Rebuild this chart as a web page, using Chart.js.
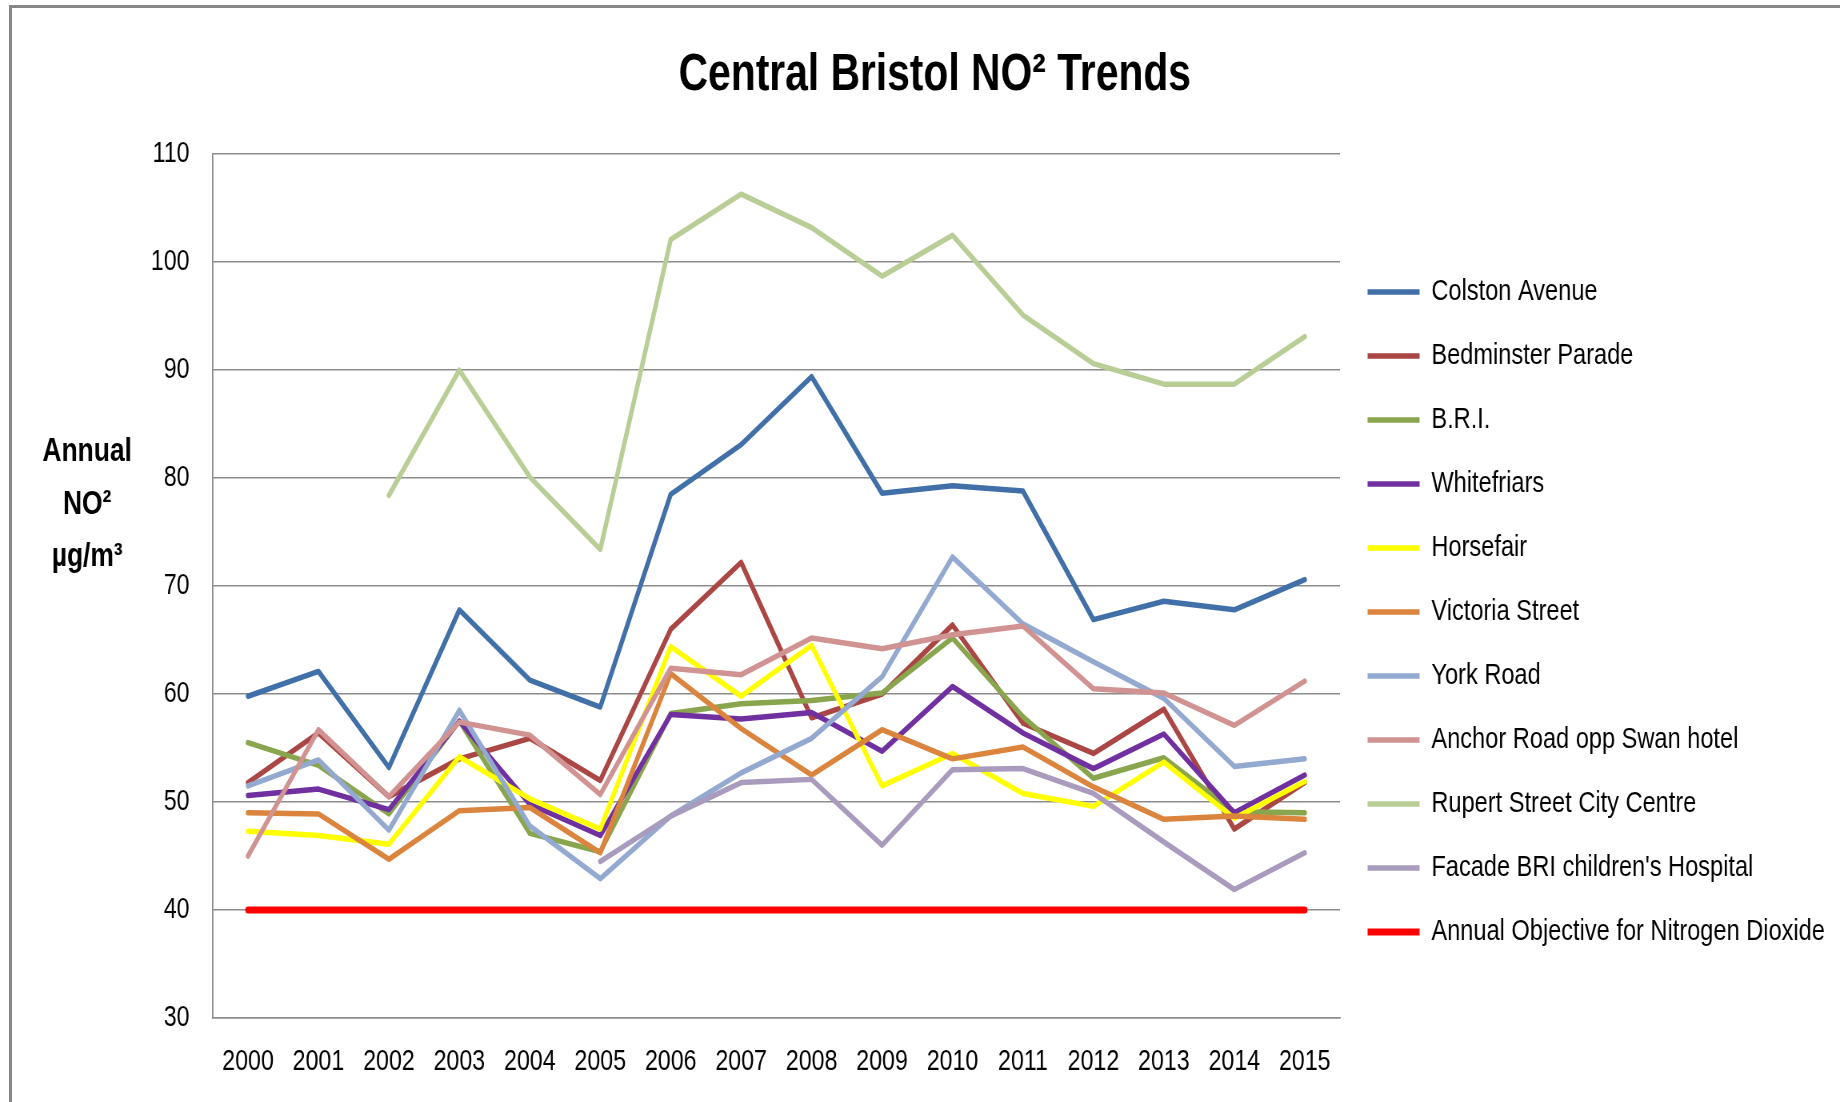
<!DOCTYPE html>
<html>
<head>
    <title>Central Bristol NO2 Trends</title>
    <script src="https://cdn.jsdelivr.net/npm/chart.js"></script>
    <style>
        body {
            margin: 0;
            background-color: #ffffff;
            overflow: hidden;
        }
        .frame {
            position: absolute;
            left: 9px;
            top: 5px;
            width: 2000px;
            height: 2000px;
            border: 3px solid #878787;
        }
        /* the original picture is narrow and tall, so the canvas is drawn wider and squeezed */
        #no2-chart {
            position: absolute;
            left: 0;
            top: 0;
        }
    </style>
</head>
<body>
    <div class="frame"></div>
    <canvas id="no2-chart" width="2300" height="1102" style="width: 1840px; height: 1102px;"></canvas>
<script>
    var years = ['2000', '2001', '2002', '2003', '2004', '2005', '2006', '2007',
                 '2008', '2009', '2010', '2011', '2012', '2013', '2014', '2015'];

    var colstonAvenue   = [59.8, 62.1, 53.2, 67.8, 61.3, 58.8, 78.5, 83.1, 89.4, 78.6, 79.3, 78.8, 66.9, 68.6, 67.8, 70.6];
    var bedminster      = [51.8, 56.4, 50.5, 54.0, 55.9, 52.0, 66.0, 72.2, 57.8, 60.0, 66.4, 57.3, 54.5, 58.6, 47.5, 51.8];
    var bri             = [55.5, 53.4, 48.9, 57.5, 47.1, 45.4, 58.2, 59.1, 59.4, 60.1, 65.2, 57.9, 52.2, 54.1, 49.1, 49.0];
    var whitefriars     = [50.6, 51.2, 49.3, 57.5, 49.8, 46.9, 58.1, 57.7, 58.3, 54.7, 60.7, 56.4, 53.1, 56.3, 49.0, 52.5];
    var horsefair       = [47.3, 46.9, 46.1, 54.2, 50.3, 47.5, 64.4, 59.8, 64.5, 51.5, 54.5, 50.8, 49.6, 53.7, 48.5, 51.9];
    var victoriaStreet  = [49.0, 48.9, 44.7, 49.2, 49.5, 45.3, 61.9, 56.8, 52.5, 56.7, 54.0, 55.1, 51.4, 48.4, 48.7, 48.4];
    var yorkRoad        = [51.5, 53.9, 47.4, 58.5, 47.8, 42.9, 48.7, 52.7, 55.9, 61.6, 72.7, 66.5, 63.0, 59.6, 53.3, 54.0];
    var anchorRoad      = [45.0, 56.7, 50.5, 57.4, 56.2, 50.7, 62.4, 61.8, 65.2, 64.2, 65.5, 66.3, 60.5, 60.1, 57.1, 61.2];
    var rupertStreet    = [null, null, 78.4, 90.0, 80.1, 73.4, 102.1, 106.3, 103.2, 98.7, 102.5, 95.1, 90.6, 88.7, 88.7, 93.1];
    var facadeBri       = [null, null, null, null, null, 44.5, 48.7, 51.8, 52.1, 46.0, 53.0, 53.1, 50.8, 46.3, 41.9, 45.3];
    var annualObjective = [40, 40, 40, 40, 40, 40, 40, 40, 40, 40, 40, 40, 40, 40, 40, 40];

    var seriesNames = ['Colston Avenue', 'Bedminster Parade', 'B.R.I.', 'Whitefriars', 'Horsefair',
                       'Victoria Street', 'York Road', 'Anchor Road opp Swan hotel',
                       'Rupert Street City Centre', "Facade BRI children's Hospital",
                       'Annual Objective for Nitrogen Dioxide'];
    var seriesValues = [colstonAvenue, bedminster, bri, whitefriars, horsefair, victoriaStreet,
                        yorkRoad, anchorRoad, rupertStreet, facadeBri, annualObjective];
    var seriesColors = ['#4170A8', '#AA4643', '#89A54E', '#7030A0', '#FFFF00', '#DB843D',
                        '#93A9CF', '#D19392', '#B9CD96', '#A99BBD', '#FF0000'];

    var yTicks = [30, 40, 50, 60, 70, 80, 90, 100, 110];

    var fontFamily = "'Liberation Sans', Arial, sans-serif";

    var datasets = seriesNames.map(function (name, i) {
        var last = i === seriesNames.length - 1;
        return {
            label: name,
            data: seriesValues[i],
            borderColor: seriesColors[i],
            backgroundColor: seriesColors[i],
            borderWidth: last ? 7 : 5.5,
            borderCapStyle: 'round',
            borderJoinStyle: 'round',
            pointRadius: 0,
            pointHoverRadius: 0,
            tension: 0,
            fill: false,
            order: seriesNames.length - i // later series on top, like the original
        };
    });

    // horizontal "Annual NO2 ug/m3" label left of the axis
    var yTitlePlugin = {
        id: 'yTitle',
        afterDraw: function (chart) {
            var ctx = chart.ctx;
            var area = chart.chartArea;
            var lines = ['Annual', 'NO\u00b2', '\u00b5g/m\u00b3'];
            var offsets = [298, 351, 403];
            ctx.save();
            ctx.font = 'bold 33px ' + fontFamily;
            ctx.fillStyle = '#000000';
            ctx.textAlign = 'center';
            ctx.textBaseline = 'middle';
            lines.forEach(function (t, i) {
                ctx.fillText(t, area.left - 157, area.top + offsets[i]);
            });
            ctx.restore();
        }
    };

    var ctx = document.getElementById('no2-chart').getContext('2d');
    var no2Chart = new Chart(ctx, {
        type: 'line',
        data: {
            labels: years,
            datasets: datasets
        },
        options: {
            responsive: false,
            animation: false,
            devicePixelRatio: 1,
            layout: {
                padding: { left: 46, right: 9, top: 0, bottom: 0 }
            },
            plugins: {
                title: {
                    display: true,
                    text: 'Central Bristol NO\u00b2 Trends',
                    color: '#000000',
                    font: { family: fontFamily, size: 51, weight: 'bold', lineHeight: 1.2 },
                    padding: { top: 45, bottom: 48 }
                },
                legend: {
                    position: 'right',
                    align: 'center',
                    fullSize: false,
                    maxWidth: 616,
                    title: {
                        display: true,
                        text: '',
                        font: { size: 20, lineHeight: 1 },
                        padding: { top: 16, bottom: 16 }
                    },
                    labels: {
                        color: '#000000',
                        font: { family: fontFamily, size: 29.5 },
                        padding: 34.5,
                        usePointStyle: true,
                        pointStyle: 'line',
                        pointStyleWidth: 65,
                        sort: function (a, b) { return a.datasetIndex - b.datasetIndex; }
                    }
                },
                tooltip: { enabled: false }
            },
            scales: {
                x: {
                    type: 'category',
                    offset: true,
                    grid: { display: false, drawTicks: false },
                    border: { display: true, color: '#8c8c8c', width: 1.5 },
                    ticks: {
                        color: '#000000',
                        font: { family: fontFamily, size: 29 },
                        padding: 27,
                        maxRotation: 0,
                        autoSkip: false
                    },
                    afterFit: function (scale) { scale.height = 84; }
                },
                y: {
                    min: 30,
                    max: 110,
                    grid: { color: '#8c8c8c', lineWidth: 1.5, drawTicks: false },
                    border: { display: true, color: '#8c8c8c', width: 1.8 },
                    afterBuildTicks: function (scale) {
                        scale.ticks = yTicks.map(function (v) { return { value: v }; });
                    },
                    ticks: {
                        color: '#000000',
                        font: { family: fontFamily, size: 29 },
                        padding: 29
                    },
                    afterFit: function (scale) { scale.width = 220; }
                }
            }
        },
        plugins: [yTitlePlugin]
    });
</script>
</body>
</html>
